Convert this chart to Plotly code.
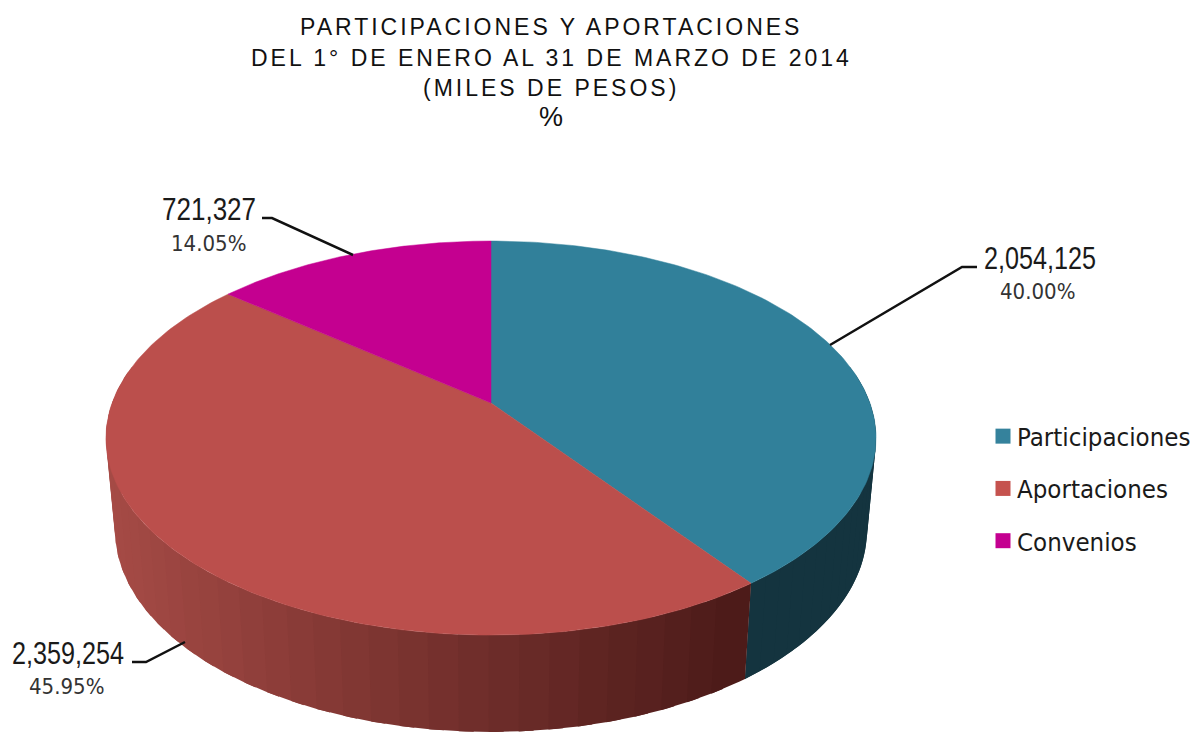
import numpy as np
import plotly.graph_objects as go

# ---- data ----
CATEGORIES = ["Participaciones", "Aportaciones", "Convenios"]
AMOUNTS = [2054125, 2359254, 721327]
AMOUNT_LABELS = ["2,054,125", "2,359,254", "721,327"]
PERCENT_LABELS = ["40.00%", "45.95%", "14.05%"]
TITLE_LINES = ["PARTICIPACIONES Y APORTACIONES",
               "DEL 1° DE ENERO AL 31 DE MARZO DE 2014",
               "(MILES DE PESOS)", "%"]

# ---- style ----
TOP_COLORS = ["#31809a", "#bb4f4c", "#c40090"]
LEGEND_COLORS = ["#35829c", "#c5524e", "#c40090"]
SIDE_TEAL = "#14343f"
SIDE_RED_LEFT = np.array([0xa6, 0x4b, 0x46])
SIDE_RED_RIGHT = np.array([0x4c, 0x1b, 0x19])
W, H = 1199, 732
CX = 491
K = 0.178          # perspective strength
TOP = dict(y0=403, a=190.8, b=378.9)
BOT = dict(y0=494, a=195.6, b=370.0)


def rim(theta, p):
    """Clockwise angle from the far side of the disc -> pixel position."""
    u, v = np.sin(theta), np.cos(theta)
    d = 1 + K * v
    return CX + p["b"] * u / d, p["y0"] - p["a"] * v / d


amounts = np.array(AMOUNTS, dtype=float)
edges = np.concatenate([[0], np.cumsum(amounts) / amounts.sum()]) * 2 * np.pi
fig = go.Figure()


def add_band(t0, t1, color):
    ts = np.linspace(t0, t1, 12)
    xt, yt = rim(ts, TOP)
    xb, yb = rim(ts[::-1], BOT)
    fig.add_trace(go.Scatter(
        x=np.concatenate([xt, xb]), y=np.concatenate([yt, yb]),
        mode="lines", fill="toself", fillcolor=color,
        line=dict(color=color, width=0),
        hoverinfo="skip", showlegend=False))


# sides: only the near half of the disc is visible
near_start = np.pi / 2 - 0.2
tts = np.linspace(near_start, edges[1], 25)
tstep = tts[1] - tts[0]
for i in range(len(tts) - 1):
    add_band(tts[i], min(tts[i + 1] + tstep, edges[1]), SIDE_TEAL)
N = 36
red_end = edges[2]
bts = np.linspace(edges[1], min(red_end, 3 * np.pi / 2 + 0.2), N + 1)
step = bts[1] - bts[0]
for i in range(N - 1, -1, -1):
    xm = rim(np.array([(bts[i] + bts[i + 1]) / 2]), BOT)[0][0]
    f = np.clip((xm - 120) / (745 - 120), 0, 1)
    c = SIDE_RED_LEFT * (1 - f) + SIDE_RED_RIGHT * f
    add_band(bts[i], bts[i + 1] + (0.5 * step if i < N - 1 else 0), "rgb(%d,%d,%d)" % tuple(c))

# top face
for i, name in enumerate(CATEGORIES):
    ts = np.linspace(edges[i], edges[i + 1], 160)
    x, y = rim(ts, TOP)
    fig.add_trace(go.Scatter(
        x=np.concatenate([[CX], x, [CX]]),
        y=np.concatenate([[TOP["y0"]], y, [TOP["y0"]]]),
        mode="lines", fill="toself", fillcolor=TOP_COLORS[i],
        line=dict(color=TOP_COLORS[i], width=0.5),
        name=name, showlegend=False, hoverinfo="name"))

# legend entries
for i, name in enumerate(CATEGORIES):
    fig.add_trace(go.Scatter(
        x=[None], y=[None], mode="markers", name=name, legendgroup=name,
        marker=dict(symbol="square", size=15, color=LEGEND_COLORS[i])))

# leader lines
LEADERS = [
    [(977, 267), (962, 267), (830, 345)],
    [(132, 662), (146, 662), (185, 642)],
    [(262, 218), (272, 218), (353, 255)],
]
for pts in LEADERS:
    path = "M " + " L ".join(f"{a} {b}" for a, b in pts)
    fig.add_shape(type="path", path=path, line=dict(color="#111111", width=2.5),
                  xref="x", yref="y")

annotations = []
TITLE_Y = [27, 58, 88, 117]
TITLE_SIZE = [23, 23, 23, 27]
for line, y, s in zip(TITLE_LINES, TITLE_Y, TITLE_SIZE):
    annotations.append(dict(x=551, y=y, text=line, showarrow=False, xref="x", yref="y",
                            xanchor="center", yanchor="middle",
                            font=dict(family="Liberation Sans", size=s, color="#111111")))
VALUE_POS = [(1040, 258), (68, 653), (209, 209)]
PCT_POS = [(1037, 291), (66, 686), (208, 243)]
for i in range(3):
    annotations.append(dict(x=VALUE_POS[i][0], y=VALUE_POS[i][1], text=AMOUNT_LABELS[i],
                            showarrow=False, xanchor="center", yanchor="middle",
                            font=dict(family="Liberation Sans", size=31, color="#1a1a1a")))
    annotations.append(dict(x=PCT_POS[i][0], y=PCT_POS[i][1], text=PERCENT_LABELS[i],
                            showarrow=False, xanchor="center", yanchor="middle",
                            font=dict(family="DejaVu Sans Condensed, DejaVu Sans", size=22, color="#333333")))

fig.update_layout(
    width=W, height=H, margin=dict(l=0, r=0, t=0, b=0),
    paper_bgcolor="white", plot_bgcolor="white",
    xaxis=dict(range=[0, W], visible=False, fixedrange=True),
    yaxis=dict(range=[H, 0], visible=False, fixedrange=True),
    annotations=annotations,
    showlegend=True,
    legend=dict(
        x=977 / W, y=1 - 413 / H, xanchor="left", yanchor="top",
        traceorder="grouped", tracegroupgap=16, bgcolor="rgba(0,0,0,0)",
        font=dict(family="DejaVu Sans Condensed, DejaVu Sans", size=25.6, color="#1a1a1a")),
)

POST = """
document.body.style.margin = '0';
var widths = {4:112, 6:112, 8:94};
document.querySelectorAll('.annotation').forEach(function(a){
  var i = +a.getAttribute('data-index');
  if (i < 3) { a.querySelectorAll('text').forEach(function(t){ t.style.letterSpacing='3px'; }); }
  if (widths[i]) { a.querySelectorAll('text').forEach(function(t){
      t.setAttribute('textLength', widths[i]); t.setAttribute('lengthAdjust','spacingAndGlyphs'); }); }
});
document.querySelectorAll('.legendsymbols').forEach(function(s){
  s.setAttribute('transform','translate(6,0)');
});
"""
fig.write_html("out.html", post_script=POST, config=dict(displayModeBar=False))
